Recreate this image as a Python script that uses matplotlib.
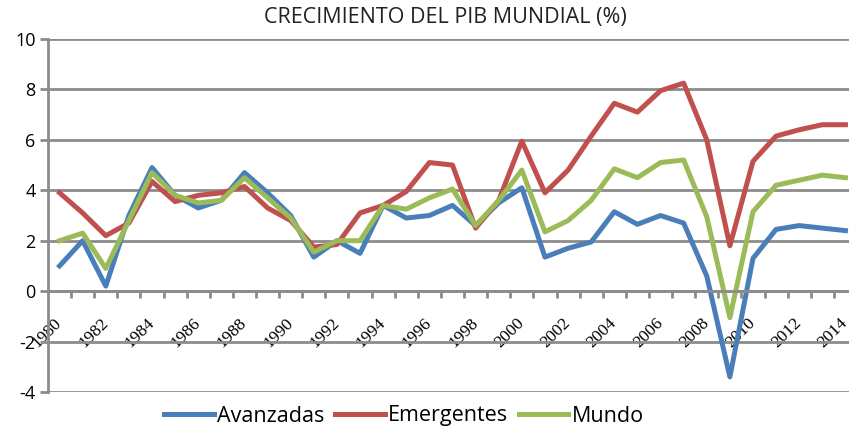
import numpy as np
import matplotlib
matplotlib.use('Agg')
from matplotlib import pyplot as plt
from matplotlib.ticker import FixedLocator

years = list(range(1980, 2015))

avanzadas = [1.0, 2.0, 0.2, 3.0, 4.9, 3.8, 3.3, 3.6, 4.7, 3.9, 3.0,
             1.35, 2.0, 1.5, 3.4, 2.9, 3.0, 3.4, 2.6, 3.5, 4.1,
             1.35, 1.7, 1.95, 3.15, 2.65, 3.0, 2.7, 0.6, -3.4, 1.3,
             2.45, 2.6, 2.5, 2.4]
emergentes = [3.9, 3.1, 2.2, 2.7, 4.35, 3.55, 3.8, 3.9, 4.15, 3.3, 2.8,
              1.75, 1.85, 3.1, 3.4, 3.95, 5.1, 5.0, 2.5, 3.6, 5.95,
              3.9, 4.8, 6.15, 7.45, 7.1, 7.95, 8.25, 6.0, 1.8, 5.15,
              6.15, 6.4, 6.6, 6.6]
mundo = [2.0, 2.3, 0.9, 2.8, 4.7, 3.8, 3.5, 3.6, 4.5, 3.7, 2.9,
         1.55, 2.0, 2.0, 3.4, 3.25, 3.7, 4.05, 2.6, 3.6, 4.8,
         2.35, 2.8, 3.6, 4.85, 4.5, 5.1, 5.2, 2.95, -1.05, 3.15,
         4.2, 4.4, 4.6, 4.5]

series = [('Avanzadas', avanzadas, '#4A7EBB'),
          ('Emergentes', emergentes, '#C0504D'),
          ('Mundo', mundo, '#9BBB59')]

plt.rcParams['font.family'] = ['Open Sans', 'DejaVu Sans']
plt.rcParams['axes.unicode_minus'] = False

fig = plt.figure(figsize=(8.49, 4.29), dpi=100)
ax = fig.add_axes([48 / 849, 1 - 392 / 429, 809 / 849, 353 / 429])

x = np.arange(len(years))
for name, vals, col in series:
    ax.plot(x, vals, color=col, lw=3.6, label=name, solid_joinstyle='round')

ax.set_xlim(-0.5, len(years) - 0.5)
ax.set_ylim(-4, 10)
ax.set_yticks(range(-4, 11, 2))
ax.yaxis.grid(True, color='#8c8c8c', lw=2)
ax.set_axisbelow(True)

for s in ['top', 'right']:
    ax.spines[s].set_visible(False)
ax.spines['left'].set_color('#8c8c8c')
ax.spines['left'].set_linewidth(2)
ax.spines['bottom'].set_position(('data', 0))
ax.spines['bottom'].set_color('#8c8c8c')
ax.spines['bottom'].set_linewidth(2)

# etiquetas cada dos años, marcas entre categorías
ax.xaxis.set_minor_locator(FixedLocator(np.arange(0.5, len(years), 1)))
ax.tick_params(axis='x', which='major', length=0, pad=21)
ax.tick_params(axis='x', which='minor', length=5, width=2, color='#8c8c8c', direction='out')
ax.tick_params(axis='y', length=6, width=2, color='#8c8c8c', labelsize=13, pad=3)
ax.set_xticks(x[::2])
ax.set_xticklabels([str(y) for y in years[::2]], rotation=45, ha='right', va='center',
                   rotation_mode='anchor', fontsize=12.5, fontfamily='Liberation Serif')

fig.text(445 / 849, 1 - 18 / 429, 'CRECIMIENTO DEL PIB MUNDIAL (%)',
         ha='center', va='center', fontsize=15.5, color='#222222')

fig.legend(loc='center', bbox_to_anchor=(404 / 849, 1 - 416 / 429), ncol=3,
           frameon=False, fontsize=15.5, handlelength=2.3, handletextpad=0.15,
           columnspacing=0.5, borderpad=0.1)

fig.savefig('out.png', dpi=100)
